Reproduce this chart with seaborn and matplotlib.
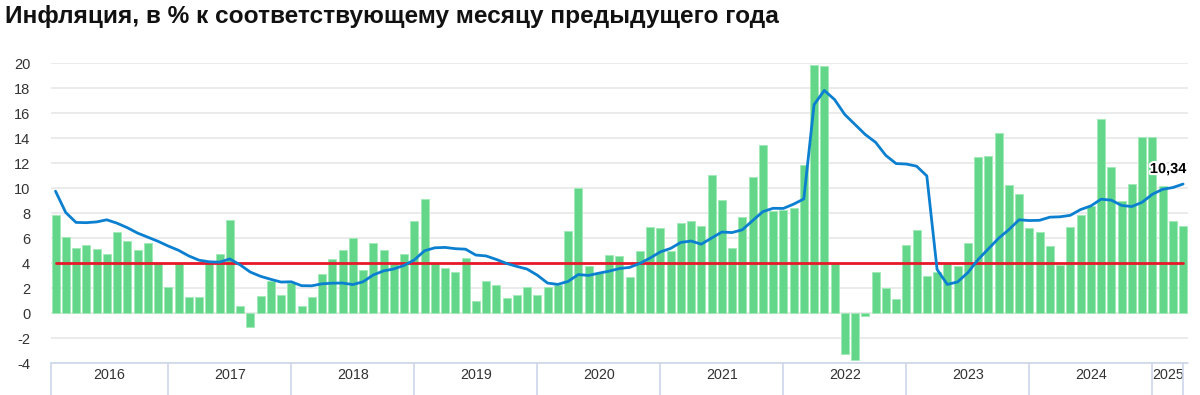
import numpy as np
import pandas as pd
import matplotlib
matplotlib.use("Agg")
import matplotlib.pyplot as plt
import matplotlib.patheffects as pe
import seaborn as sns

# ---------------- data ----------------
months = pd.date_range("2016-01-01", periods=111, freq="MS").strftime("%Y-%m").tolist()

bar_values = [
    # 2016
    7.9, 6.1, 5.25, 5.45, 5.15, 4.75, 6.5, 5.75, 5.05, 5.65, 4.0, 2.1,
    # 2017
    4.0, 1.3, 1.3, 4.0, 4.75, 7.5, 0.6, -1.1, 1.4, 2.6, 1.5, 2.4,
    # 2018
    0.6, 1.3, 3.15, 4.35, 5.05, 6.05, 3.45, 5.65, 5.05, 4.0, 4.75, 7.4,
    # 2019
    9.15, 4.0, 3.6, 3.3, 4.45, 0.95, 2.6, 2.3, 1.25, 1.5, 2.1, 1.5,
    # 2020
    2.1, 2.3, 6.6, 10.05, 3.75, 3.25, 4.65, 4.55, 2.9, 5.0, 6.9, 6.85,
    # 2021
    4.95, 7.2, 7.4, 7.0, 11.1, 9.05, 5.25, 7.7, 10.9, 13.45, 8.15, 8.3,
    # 2022
    8.4, 11.85, 19.9, 19.75, 4.0, -3.25, -3.75, -0.2, 3.3, 2.0, 1.15, 5.45,
    # 2023
    6.7, 3.0, 3.3, 4.0, 3.8, 5.65, 12.5, 12.6, 14.45, 10.25, 9.55, 6.8,
    # 2024
    6.5, 5.35, 3.85, 6.9, 7.9, 8.6, 15.55, 11.7, 8.95, 10.35, 14.1, 14.1,
    # 2025
    10.2, 7.4, 7.0,
]

yoy_values = [
    9.77, 8.06, 7.27, 7.25, 7.31, 7.48, 7.21, 6.85, 6.42, 6.09, 5.76, 5.38,
    5.04, 4.59, 4.25, 4.12, 4.09, 4.35, 3.88, 3.30, 2.96, 2.72, 2.50, 2.52,
    2.21, 2.20, 2.36, 2.41, 2.42, 2.30, 2.52, 3.07, 3.39, 3.55, 3.83, 4.27,
    5.00, 5.24, 5.27, 5.17, 5.13, 4.66, 4.59, 4.31, 3.99, 3.75, 3.54, 3.05,
    2.42, 2.31, 2.55, 3.10, 3.03, 3.21, 3.37, 3.58, 3.67, 3.99, 4.42, 4.91,
    5.19, 5.67, 5.78, 5.53, 6.02, 6.50, 6.46, 6.68, 7.41, 8.13, 8.40, 8.39,
    8.73, 9.15, 16.69, 17.83, 17.10, 15.90, 15.10, 14.30, 13.68, 12.63, 11.98, 11.94,
    11.77, 10.99, 3.51, 2.31, 2.51, 3.25, 4.30, 5.15, 6.00, 6.69, 7.48, 7.42,
    7.44, 7.69, 7.72, 7.84, 8.30, 8.59, 9.13, 9.05, 8.63, 8.54, 8.88, 9.52,
    9.92, 10.06, 10.34,
]

target_values = [4.0] * len(months)

years = ["2016", "2017", "2018", "2019", "2020", "2021", "2022", "2023", "2024", "2025"]
y_ticks = [-4, -2, 0, 2, 4, 6, 8, 10, 12, 14, 16, 18, 20]
title = "Инфляция, в % к соответствующему месяцу предыдущего года"
last_label = "10,34"

# ---------------- style ----------------
sns.set_theme(style="white")
plt.rcParams["font.family"] = ["Liberation Sans", "DejaVu Sans"]

BAR = "#63d68a"
BAR_EDGE = "#a2eab8"
LINE = "#0b7fd0"
RED = "#e8182b"
GRID = "#e6e6e6"
BAND = "#ccd6eb"

df = pd.DataFrame({
    "pos": np.arange(len(months)),
    "month": months,
    "bar": bar_values,
    "yoy": yoy_values,
    "target": target_values,
})

fig = plt.figure(figsize=(12, 3.95), dpi=100)
W, H = 1200, 395
ax = fig.add_axes([51 / W, 31.7 / H, 1137 / W, 300 / H])

# grid
for t in y_ticks:
    ax.axhline(t, color=GRID, lw=1.1, zorder=0)

sns.barplot(data=df, x="pos", y="bar", native_scale=True, width=0.78,
            color=BAR, edgecolor=BAR_EDGE, linewidth=0.7, saturation=1,
            ax=ax, zorder=2)
sns.lineplot(data=df, x="pos", y="target", color=RED, lw=2.0, ax=ax, zorder=3)
sns.lineplot(data=df, x="pos", y="yoy", color=LINE, lw=2.0, ax=ax, zorder=4)

ax.set_xlim(-0.44, 110.48)
ax.set_ylim(-4, 20)
ax.set_yticks(y_ticks)
ax.set_yticklabels([str(t) for t in y_ticks], fontsize=10.5, color="#333333")
ax.tick_params(axis="y", length=0, pad=15)
ax.set_xticks([])
ax.set_xlabel("")
ax.set_ylabel("")
for s in ax.spines.values():
    s.set_visible(False)

# year band below the plot
trans = ax.get_xaxis_transform()
n = len(months)
bounds = [-0.47] + [11 + 12 * k for k in range(len(years) - 1)] + [n - 1 + 0.02]
ax.plot([-0.47, 110.48], [0, 0], color=BAND, lw=1.2, transform=trans, clip_on=False, zorder=5)
for b in bounds:
    ax.plot([b, b], [0, -0.12], color=BAND, lw=1.2, transform=trans, clip_on=False, zorder=5)
for i, yr in enumerate(years):
    xm = (bounds[i] + bounds[i + 1]) / 2
    ax.text(xm, -0.039, yr, transform=trans, ha="center", va="center",
            fontsize=10.3, color="#333333")

# last value label
ax.text(n - 1 - 1.45, yoy_values[-1] + 1.2, last_label, ha="center", va="center",
        fontsize=10.5, fontweight="bold", color="black", zorder=6,
        path_effects=[pe.withStroke(linewidth=3, foreground="white")])

fig.text(5 / W, 1 - 17 / H, title, fontsize=17.6, fontweight="bold",
         ha="left", va="center", color="#111111")

fig.savefig("out.png", dpi=100)
